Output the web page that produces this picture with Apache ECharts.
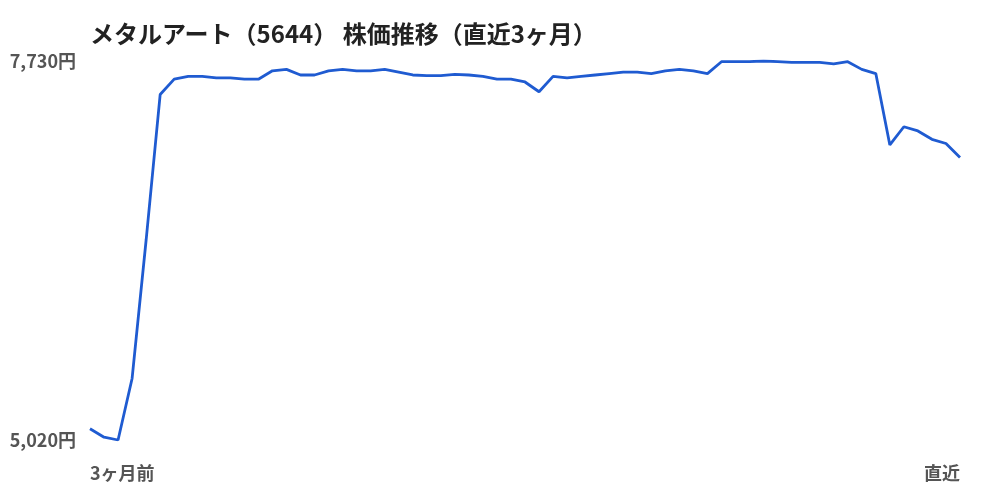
<!DOCTYPE html>
<html style="height: 100%; width: 100%">
<head>
  <meta charset="utf-8" />
  <script src="https://cdn.jsdelivr.net/npm/echarts@6/dist/echarts.min.js"></script>
</head>
<body style="height: 100%; width: 100%; margin: 0; background: #fff;">
  <div id="chart-panel" style="width: 1000px; height: 500px;"></div>
  <script type="text/javascript">
    var titleText = "メタルアート（5644） 株価推移（直近3ヶ月）";

    // 終値（円）、3ヶ月前 → 直近
    var prices = [
      5100, 5040, 5020, 5460, 6450, 7490, 7600, 7620, 7620, 7610,
      7610, 7600, 7600, 7660, 7670, 7630, 7630, 7660, 7670, 7660,
      7660, 7670, 7650, 7630, 7625, 7625, 7635, 7630, 7620, 7600,
      7600, 7580, 7510, 7620, 7610, 7620, 7630, 7640, 7650, 7650,
      7640, 7660, 7670, 7660, 7640, 7725, 7725, 7725, 7730, 7725,
      7720, 7720, 7720, 7710, 7725, 7670, 7640, 7130, 7260, 7230,
      7170, 7140, 7040
    ];

    var firstLabel = "3ヶ月前";
    var lastLabel = "直近";
    var yTicks = [5020, 7730];

    var categories = prices.map(function (v, i) {
      if (i === 0) return firstLabel;
      if (i === prices.length - 1) return lastLabel;
      return "";
    });

    var myChart = echarts.init(document.getElementById("chart-panel"));

    var option = {
      animation: false,
      textStyle: {
        fontFamily: "Noto Sans CJK JP",
      },
      title: {
        text: titleText,
        left: 90,
        top: 22,
        padding: 0,
        textStyle: {
          fontSize: 24,
          fontWeight: "bold",
          color: "#222222",
          fontFamily: "Noto Sans CJK JP",
        },
      },
      grid: {
        left: 90,
        right: 40,
        top: 61,
        bottom: 60,
        containLabel: false,
      },
      xAxis: {
        type: "category",
        data: categories,
        boundaryGap: false,
        axisLine: { show: false },
        axisTick: { show: false },
        splitLine: { show: false },
        axisLabel: {
          interval: 0,
          margin: 24,
          fontSize: 18,
          fontWeight: "bold",
          color: "#555555",
          alignMinLabel: "left",
          alignMaxLabel: "right",
        },
      },
      yAxis: {
        type: "value",
        min: yTicks[0],
        max: yTicks[1],
        axisLine: { show: false },
        axisTick: { show: false },
        splitLine: { show: false },
        axisLabel: {
          customValues: yTicks,
          margin: 14,
          fontSize: 18,
          fontWeight: "bold",
          color: "#555555",
          formatter: function (v) {
            return v.toLocaleString("en-US") + "円";
          },
        },
      },
      series: [
        {
          type: "line",
          data: prices,
          symbol: "none",
          smooth: false,
          lineStyle: {
            color: "#1f5bd1",
            width: 2.8,
          },
        },
      ],
    };

    myChart.setOption(option);
  </script>
</body>
</html>
